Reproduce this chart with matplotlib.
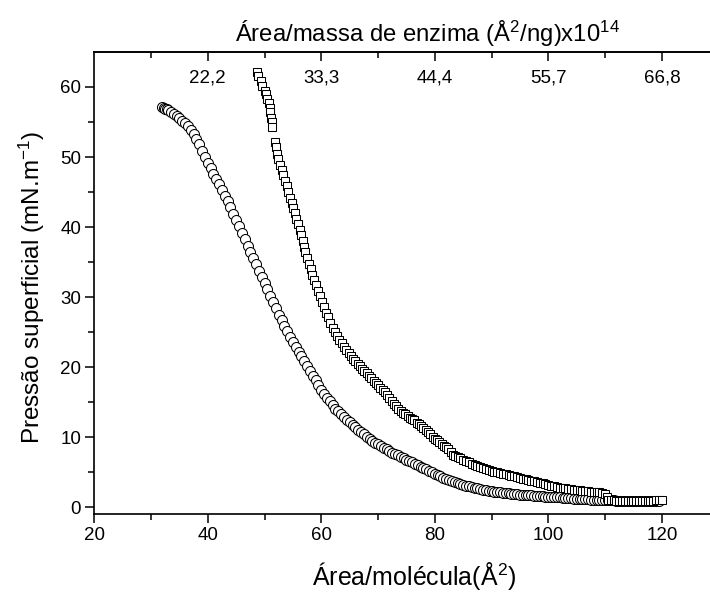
import matplotlib
matplotlib.use('Agg')
import matplotlib.pyplot as plt

# isotermas - pressao superficial x area por molecula

circ_x = [31.9, 32.2, 32.5, 32.8, 33.0, 33.5, 34.0, 34.5, 35.0, 35.5,
          36.0, 36.5, 37.0, 37.5, 38.0, 38.5, 39.0, 39.5, 40.0, 40.5,
          41.0, 41.5, 42.0, 42.5, 43.0, 43.5, 44.0, 44.5, 45.0, 45.5,
          46.0, 46.5, 47.0, 47.5, 48.0, 48.5, 49.0, 49.5, 50.0, 50.5,
          51.0, 51.5, 52.0, 52.5, 53.0, 53.5, 54.0, 54.5, 55.0, 55.5,
          56.0, 56.5, 57.0, 57.5, 58.0, 58.5, 59.0, 59.5, 60.0, 60.5,
          61.0, 61.5, 62.0, 62.5, 63.0, 63.5, 64.0, 64.5, 65.0, 65.5,
          66.0, 66.5, 67.0, 67.5, 68.0, 68.5, 69.0, 69.5, 70.0, 70.5,
          71.0, 71.5, 72.0, 72.5, 73.0, 73.5, 74.0, 74.5, 75.0, 75.5,
          76.0, 76.5, 77.0, 77.5, 78.0, 78.5, 79.0, 79.5, 80.0, 80.5,
          81.0, 81.5, 82.0, 82.5, 83.0, 83.5, 84.0, 84.5, 85.0, 85.5,
          86.0, 86.5, 87.0, 87.5, 88.0, 88.5, 89.0, 89.5, 90.0, 90.5,
          91.0, 91.5, 92.0, 92.5, 93.0, 93.5, 94.0, 94.5, 95.0, 95.5,
          96.0, 96.5, 97.0, 97.5, 98.0, 98.5, 99.0, 99.5, 100.0, 100.5,
          101.0, 101.5, 102.0, 102.5, 103.0, 103.5, 104.0, 104.5, 105.0, 105.5,
          106.0, 106.5, 107.0, 107.5, 108.0, 108.5, 109.0, 109.5, 110.0, 110.5,
          111.0, 111.5, 112.0, 112.5, 113.0, 113.5, 114.0, 114.5, 115.0, 115.5,
          116.0, 116.5, 117.0, 117.5, 118.0, 118.5, 119.0, 119.5]
circ_y = [57.1, 57.0, 56.9, 56.8, 56.7, 56.5, 56.2, 55.9, 55.6, 55.2,
          54.8, 54.4, 53.9, 53.3, 52.6, 51.8, 50.9, 50.0, 49.2, 48.4,
          47.6, 46.9, 46.1, 45.3, 44.5, 43.7, 42.8, 41.9, 41.0, 40.2,
          39.2, 38.3, 37.3, 36.4, 35.6, 34.7, 33.8, 32.9, 32.0, 31.1,
          30.2, 29.3, 28.4, 27.5, 26.7, 25.9, 25.1, 24.3, 23.6, 22.9,
          22.2, 21.6, 20.9, 20.2, 19.5, 18.8, 18.1, 17.4, 16.8, 16.2,
          15.6, 15.1, 14.6, 14.1, 13.7, 13.3, 12.9, 12.5, 12.2, 11.8,
          11.4, 11.0, 10.7, 10.4, 10.1, 9.8, 9.5, 9.2, 9.0, 8.7,
          8.5, 8.3, 8.0, 7.8, 7.6, 7.4, 7.2, 7.0, 6.8, 6.6,
          6.4, 6.2, 6.0, 5.8, 5.6, 5.4, 5.2, 5.0, 4.8, 4.6,
          4.4, 4.2, 4.1, 3.9, 3.8, 3.6, 3.5, 3.3, 3.2, 3.1,
          3.0, 2.9, 2.8, 2.7, 2.6, 2.5, 2.4, 2.3, 2.3, 2.25,
          2.2, 2.15, 2.1, 2.05, 2.0, 1.95, 1.9, 1.85, 1.8, 1.8,
          1.75, 1.7, 1.7, 1.65, 1.6, 1.6, 1.55, 1.5, 1.5, 1.45,
          1.45, 1.4, 1.4, 1.35, 1.35, 1.3, 1.3, 1.25, 1.25, 1.2,
          1.2, 1.15, 1.15, 1.1, 1.1, 1.1, 1.05, 1.05, 1.0, 1.0,
          1.0, 1.0, 0.95, 0.95, 0.95, 0.9, 0.9, 0.9, 0.9, 0.9,
          0.9, 0.9, 0.9, 0.9, 0.9, 0.9, 0.9, 0.9]

sq_x = [48.6, 48.9, 49.3, 49.6, 50.0, 50.3, 50.5, 50.7, 50.9, 51.0,
        51.2, 51.3, 51.4, 51.8, 52.0, 52.2, 52.4, 52.7, 53.0, 53.3,
        53.6, 53.9, 54.2, 54.5, 54.8, 55.1, 55.4, 55.6, 55.9, 56.2,
        56.5, 56.7, 57.0, 57.2, 57.5, 57.8, 58.1, 58.4, 58.7, 59.0,
        59.4, 59.8, 60.1, 60.5, 60.8, 61.2, 61.6, 62.0, 62.4, 62.8,
        63.2, 63.6, 64.0, 64.4, 64.8, 65.2, 65.6, 66.0, 66.4, 66.8,
        67.2, 67.6, 68.0, 68.4, 68.8, 69.2, 69.6, 70.0, 70.4, 70.8,
        71.2, 71.6, 72.0, 72.4, 72.8, 73.2, 73.6, 74.0, 74.4, 74.8,
        75.2, 75.6, 76.0, 76.4, 76.8, 77.2, 77.6, 78.0, 78.4, 78.8,
        79.2, 79.6, 80.0, 80.4, 80.8, 81.2, 81.6, 82.0, 82.4, 82.8,
        83.2, 83.6, 84.0, 84.5, 85.0, 85.5, 86.0, 86.5, 87.0, 87.5,
        88.0, 88.5, 89.0, 89.5, 90.0, 90.5, 91.0, 91.5, 92.0, 92.5,
        93.0, 93.5, 94.0, 94.5, 95.0, 95.5, 96.0, 96.5, 97.0, 97.5,
        98.0, 98.5, 99.0, 99.5, 100.0, 100.5, 101.0, 101.5, 102.0, 102.5,
        103.0, 103.5, 104.0, 104.5, 105.0, 105.5, 106.0, 106.5, 107.0, 107.5,
        108.0, 108.5, 109.0, 109.5, 110.0, 110.3, 110.6, 111.0, 111.5, 112.0,
        112.5, 113.0, 113.5, 114.0, 114.5, 115.0, 115.5, 116.0, 116.5, 117.0,
        117.5, 118.0, 118.5, 119.0, 119.5, 120.0]
sq_y = [62.1, 61.6, 60.8, 60.2, 59.5, 59.0, 58.3, 57.7, 57.0, 56.4,
        55.6, 55.0, 54.3, 52.2, 51.5, 50.5, 49.7, 48.9, 48.2, 47.4,
        46.6, 45.8, 45.0, 44.2, 43.4, 42.7, 42.0, 41.2, 40.4, 39.6,
        38.8, 38.0, 37.2, 36.4, 35.6, 34.8, 34.0, 33.2, 32.4, 31.7,
        30.9, 30.1, 29.3, 28.6, 27.8, 27.1, 26.3, 25.6, 25.0, 24.4,
        23.9, 23.4, 22.9, 22.4, 22.0, 21.6, 21.2, 20.9, 20.5, 20.2,
        19.8, 19.4, 19.1, 18.7, 18.4, 18.0, 17.7, 17.4, 17.0, 16.7,
        16.4, 16.0, 15.6, 15.2, 14.8, 14.4, 14.1, 13.8, 13.5, 13.3,
        13.0, 12.8, 12.6, 12.4, 12.1, 11.9, 11.6, 11.3, 11.0, 10.7,
        10.4, 10.1, 9.8, 9.6, 9.3, 9.0, 8.8, 8.6, 8.3, 7.9,
        7.5, 7.3, 7.2, 7.0, 6.8, 6.6, 6.4, 6.2, 6.1, 5.9,
        5.8, 5.6, 5.5, 5.3, 5.2, 5.1, 5.0, 4.9, 4.8, 4.7,
        4.6, 4.5, 4.4, 4.3, 4.2, 4.1, 4.0, 3.9, 3.8, 3.7,
        3.6, 3.5, 3.4, 3.3, 3.2, 3.1, 3.0, 2.9, 2.8, 2.75,
        2.7, 2.6, 2.55, 2.5, 2.45, 2.4, 2.35, 2.3, 2.3, 2.25,
        2.2, 2.2, 2.15, 2.1, 1.9, 1.4, 1.1, 1.0, 1.0, 0.95,
        0.95, 0.9, 0.9, 0.9, 0.9, 0.9, 0.9, 0.9, 0.9, 0.9,
        0.9, 0.9, 0.95, 1.0, 1.05, 1.1]

x_ticks = [20, 40, 60, 80, 100, 120]
x_minor = [30, 50, 70, 90, 110, 130]
y_ticks = [0, 10, 20, 30, 40, 50, 60]
y_minor = [5, 15, 25, 35, 45, 55]
top_ticks = [40, 60, 80, 100, 120]
top_labels = ['22,2', '33,3', '44,4', '55,7', '66,8']

plt.rcParams.update({'font.family': 'Liberation Sans',
                     'mathtext.fontset': 'custom',
                     'mathtext.rm': 'Liberation Sans',
                     'mathtext.it': 'Liberation Sans',
                     'mathtext.default': 'regular'})

fig = plt.figure(figsize=(7.1, 5.92), dpi=100)
ax = fig.add_axes([0.1328, 0.1313, 0.8793, 0.7809])

ax.plot(circ_x, circ_y, 'o', markersize=7.2, markerfacecolor='white',
        markeredgecolor='black', markeredgewidth=0.75, linestyle='none')
ax.plot(sq_x, sq_y, 's', markersize=6.2, markerfacecolor='white',
        markeredgecolor='black', markeredgewidth=0.75, linestyle='none')

ax.set_xlim(20, 130)
ax.set_ylim(-1, 65)
ax.set_xticks(x_ticks)
ax.set_xticks(x_minor, minor=True)
ax.set_yticks(y_ticks)
ax.set_yticks(y_minor, minor=True)
ax.tick_params(which='major', direction='out', length=6.5, width=1.1, labelsize=13.5, pad=3)
ax.tick_params(which='minor', direction='out', length=4, width=1.1)
ax.spines['right'].set_visible(False)
for s in ['left', 'bottom', 'top']:
    ax.spines[s].set_linewidth(1.2)

ax.set_xlabel(r'Área/molécula(Å$^{2}$)', fontsize=18)
ax.xaxis.set_label_coords(0.513, -0.1)
ax.set_ylabel(r'Pressão superficial (mN.m$^{-1}$)', fontsize=17.5)
ax.yaxis.set_label_coords(-0.076, 0.49)

ax2 = ax.twiny()
ax2.set_xlim(20, 130)
ax2.set_xticks(top_ticks)
ax2.set_xticklabels(top_labels)
ax2.set_xticks(x_minor, minor=True)
ax2.tick_params(which='major', direction='in', length=6.5, width=1.1, labelsize=13.5, pad=-25)
ax2.tick_params(which='minor', direction='in', length=4, width=1.1)
for s in ['right', 'left', 'bottom']:
    ax2.spines[s].set_visible(False)
ax2.spines['top'].set_linewidth(1.2)
ax2.set_xlabel(r'Área/massa de enzima (Å$^{2}$/ng)x10$^{14}$', fontsize=17.2)
ax2.xaxis.set_label_coords(0.534, 1.022)

plt.savefig('out.png', dpi=100)
plt.close()
